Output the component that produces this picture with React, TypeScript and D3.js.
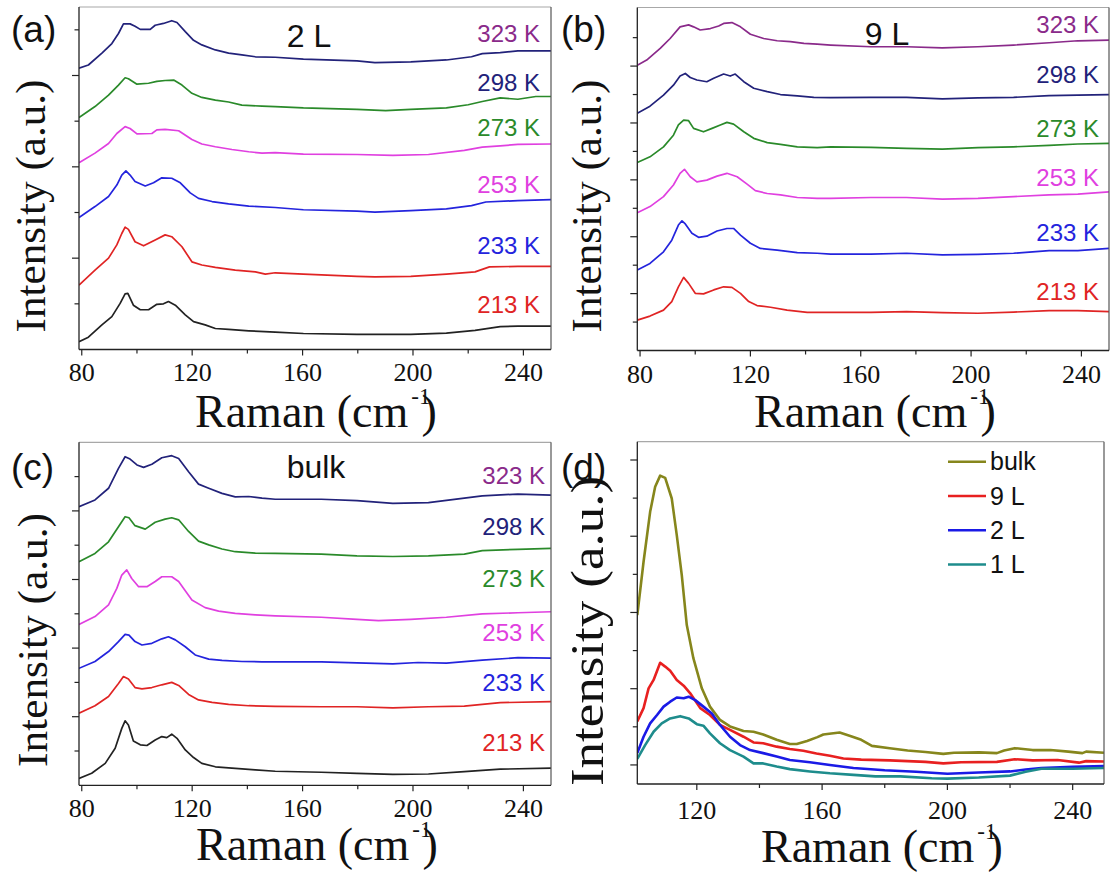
import React from 'react';
import * as d3 from 'd3';

type Pt = [number, number];

// ---------- tick values / labels ----------
const xMajorTicks = [80, 120, 160, 200, 240];
const xMinorTicks = [100, 140, 180, 220];
const xMajorTicksD = [120, 160, 200, 240];
const xMinorTicksD = [140, 180, 220];
const tempLabels = ['323 K', '298 K', '273 K', '253 K', '233 K', '213 K'];
const tempLabelColors = ['#8a2a8a', '#22227a', '#2a8a2a', '#e040e0', '#2424dd', '#e02424'];
const curveColorsAC = ['#22227a', '#2a8a2a', '#e040e0', '#2424dd', '#e02424', '#222222'];
const curveColorsB = ['#8a2a8a', '#22227a', '#2a8a2a', '#e040e0', '#2424dd', '#e02424'];
const legendLabelsD = ['bulk', '9 L', '2 L', '1 L'];
const legendColorsD = ['#86861c', '#e82020', '#1a1ae6', '#1e8c8c'];

// ---------- (a) 2 L ----------
const a323: Pt[] = [[79,6.16],[82.4,6.23],[87.3,6.49],[90.9,6.70],[93.3,6.92],[95.1,7.13],[97.5,7.13],[99.3,7.08],[101.2,7.01],[104.8,7.01],[106.6,7.10],[109.6,7.14],[112.6,7.20],[114.5,7.16],[117.5,6.96],[120.5,6.77],[123.5,6.67],[128.4,6.56],[133.2,6.49],[138,6.45],[142.9,6.41],[150.1,6.40],[160.3,6.36],[179.7,6.32],[186.2,6.28],[199.2,6.30],[212.1,6.34],[221.2,6.41],[225.1,6.48],[231.6,6.50],[238,6.54],[250,6.54]];
const a298: Pt[] = [[79,5.08],[84.8,5.32],[89.7,5.57],[93.3,5.79],[95.7,5.95],[96.9,5.93],[100,5.81],[104.2,5.83],[107.2,5.87],[110.2,5.89],[113.3,5.90],[116.3,5.79],[119.9,5.61],[123.5,5.52],[128.4,5.46],[133.2,5.42],[138,5.35],[145.3,5.33],[150.1,5.32],[160.3,5.29],[179.7,5.26],[190.1,5.23],[199.2,5.26],[212.1,5.29],[220,5.36],[225.1,5.43],[231.6,5.51],[238,5.48],[244.5,5.54],[250,5.54]];
const a273: Pt[] = [[79,4.09],[84.8,4.30],[89.7,4.51],[92.7,4.73],[95.7,4.88],[97.5,4.84],[100,4.72],[105.4,4.73],[107.2,4.81],[110.2,4.82],[115.1,4.79],[119.9,4.60],[123.5,4.50],[128.4,4.44],[134.4,4.38],[140.5,4.33],[145.3,4.30],[150.1,4.31],[160.3,4.28],[179.7,4.27],[192.7,4.25],[205.6,4.27],[218.6,4.36],[225.1,4.43],[231.6,4.46],[238,4.49],[250,4.50]];
const a253: Pt[] = [[79,2.89],[84.8,3.13],[89.7,3.35],[92.7,3.60],[94.5,3.82],[96,3.91],[97.5,3.82],[99.3,3.68],[103,3.58],[106,3.65],[109,3.76],[112.6,3.75],[115.7,3.65],[119.3,3.43],[122.3,3.31],[127.2,3.24],[133.2,3.19],[140.5,3.14],[150.1,3.11],[160.3,3.06],[179.7,3.03],[186.2,3.01],[199.2,3.04],[212.1,3.08],[221.2,3.15],[226.4,3.23],[238,3.26],[250,3.28]];
const a233: Pt[] = [[79,1.41],[84.8,1.74],[89.7,2.00],[92.7,2.29],[94.5,2.54],[95.7,2.68],[96.9,2.63],[99.3,2.36],[102.4,2.27],[106.6,2.40],[110.2,2.51],[112.6,2.47],[116.3,2.25],[119.9,1.92],[123.5,1.85],[128.4,1.80],[135.6,1.74],[142.9,1.70],[146.5,1.65],[150.1,1.68],[160.3,1.65],[179.7,1.60],[186.2,1.59],[199.2,1.60],[212.1,1.65],[222.5,1.70],[227.7,1.81],[238,1.82],[250,1.82]];
const a213: Pt[] = [[79,0.17],[82.4,0.27],[87.3,0.54],[90.9,0.72],[93.9,1.01],[95.7,1.22],[96.7,1.23],[98.7,0.97],[101.2,0.87],[104.2,0.87],[107.2,0.99],[109.6,1.00],[111.4,1.05],[113.9,0.97],[117.5,0.76],[120.5,0.61],[124.7,0.54],[128.4,0.46],[133.2,0.44],[140.5,0.41],[150.1,0.38],[160.3,0.35],[179.7,0.33],[199.2,0.33],[212.1,0.36],[222.5,0.42],[231.6,0.50],[238,0.51],[250,0.51]];

// ---------- (b) 9 L ----------
const b323: Pt[] = [[79,10.03],[82.4,10.21],[87.3,10.62],[90.9,10.97],[94.5,11.38],[97.6,11.45],[99.4,11.38],[101.8,11.27],[105.5,11.32],[108.5,11.41],[110.3,11.50],[113.3,11.53],[116.4,11.38],[120,11.12],[124.8,10.97],[129.7,10.89],[134.5,10.86],[139.4,10.80],[144.2,10.77],[149.1,10.74],[163.7,10.68],[176.6,10.68],[189.6,10.64],[202.5,10.68],[215.4,10.74],[228.3,10.82],[238.7,10.89],[250,10.91]];
const b298: Pt[] = [[79,8.34],[83.6,8.59],[88.5,8.98],[92.1,9.33],[94.5,9.65],[96.4,9.74],[98.2,9.60],[100.6,9.51],[104.2,9.45],[106.7,9.57],[110.3,9.72],[112.7,9.65],[114.5,9.72],[117.6,9.45],[121.2,9.22],[126.1,9.10],[130.9,9.00],[137,8.95],[143,8.90],[149.1,8.89],[163.7,8.90],[176.6,8.90],[189.6,8.85],[202.5,8.88],[215.4,8.90],[228.3,8.96],[238.7,8.98],[250,9.00]];
const b273: Pt[] = [[79,6.61],[83.6,6.81],[88.5,7.16],[92.1,7.57],[93.9,7.93],[95.8,8.10],[97.6,8.08],[99.4,7.81],[103,7.69],[106.1,7.81],[109.1,7.93],[111.5,8.02],[113.9,7.96],[117.6,7.69],[121.2,7.46],[126.1,7.31],[130.9,7.25],[137,7.16],[144.2,7.13],[149.1,7.16],[163.7,7.14],[176.6,7.11],[189.6,7.08],[202.5,7.13],[215.4,7.16],[228.3,7.21],[238.7,7.26],[250,7.28]];
const b253: Pt[] = [[79,4.84],[83.6,5.06],[88.5,5.41],[92.1,5.82],[94.5,6.23],[96.1,6.37],[98.2,6.11],[100.6,5.93],[104.2,5.99],[107.9,6.13],[111.5,6.23],[115.2,6.11],[118.8,5.85],[121.8,5.62],[126.1,5.52],[130.9,5.47],[137,5.38],[144.2,5.35],[149.1,5.35],[163.7,5.38],[176.6,5.38],[189.6,5.32],[202.5,5.35],[215.4,5.41],[228.3,5.47],[238.7,5.50],[250,5.58]];
const b233: Pt[] = [[79,2.83],[83.6,3.06],[88.5,3.47],[91.5,3.88],[93.9,4.41],[95.2,4.56],[96.4,4.45],[98.8,4.12],[101.2,3.98],[104.2,4.02],[107.9,4.20],[111.5,4.29],[113.9,4.29],[116.4,4.06],[120,3.77],[123.6,3.59],[129.7,3.53],[137,3.44],[144.2,3.42],[149.1,3.39],[163.7,3.39],[176.6,3.42],[189.6,3.36],[202.5,3.38],[215.4,3.42],[228.3,3.51],[238.7,3.51],[250,3.59]];
const b213: Pt[] = [[79,1.07],[83.6,1.21],[88.5,1.42],[91.5,1.72],[93.9,2.24],[95.8,2.57],[97.6,2.36],[100,2.01],[103,1.99],[106.7,2.13],[110.3,2.24],[113.3,2.22],[116.4,2.01],[119.4,1.72],[122.4,1.58],[127.3,1.52],[133.3,1.42],[140.6,1.34],[149.1,1.34],[163.7,1.34],[176.6,1.37],[189.6,1.33],[202.5,1.31],[215.4,1.35],[228.3,1.40],[238.7,1.40],[250,1.37]];

// ---------- (c) bulk ----------
const c323: Pt[] = [[79,8.12],[84.8,8.32],[89.7,8.66],[93.3,9.24],[95.7,9.58],[97.5,9.51],[100,9.34],[102.4,9.27],[105.4,9.36],[109,9.55],[112.6,9.61],[115.1,9.53],[118.7,9.14],[122.3,8.78],[126,8.66],[130.8,8.51],[135.6,8.41],[140.5,8.42],[145.3,8.37],[150.1,8.34],[166.8,8.34],[179.7,8.30],[192.7,8.22],[205.6,8.24],[218.6,8.37],[225.1,8.44],[238,8.49],[250,8.46]];
const c298: Pt[] = [[79,6.52],[84.8,6.76],[89.7,7.10],[93.3,7.54],[95.7,7.83],[97.1,7.80],[99.3,7.57],[103,7.47],[106.6,7.67],[110.2,7.76],[112.6,7.80],[115.1,7.74],[118.7,7.40],[122.3,7.12],[126,7.01],[130.8,6.89],[135.6,6.81],[142.9,6.77],[150.1,6.76],[166.8,6.74],[179.7,6.69],[192.7,6.67],[205.6,6.69],[218.6,6.74],[225.1,6.84],[238,6.88],[250,6.91]];
const c273: Pt[] = [[79,4.69],[84.8,4.92],[89.7,5.26],[92.7,5.74],[94.5,6.13],[96.3,6.28],[98.1,6.03],[100.6,5.79],[103.6,5.79],[106.6,5.94],[109,6.08],[112.6,6.08],[115.1,5.94],[119.9,5.40],[124.7,5.18],[129.6,5.08],[135.6,5.01],[142.9,4.97],[150.1,4.94],[166.8,4.90],[179.7,4.84],[187.5,4.80],[199.2,4.84],[212.1,4.90],[225.1,5.00],[238,5.03],[250,5.06]];
const c253: Pt[] = [[79,3.41],[84.8,3.61],[89.7,3.90],[93.3,4.19],[95.7,4.40],[97.1,4.38],[99.3,4.19],[101.8,4.09],[105.4,4.14],[109,4.27],[111.4,4.33],[113.9,4.24],[117.5,4.04],[121.1,3.80],[126,3.68],[130.8,3.64],[138,3.61],[145.3,3.60],[150.1,3.60],[166.8,3.60],[179.7,3.57],[192.7,3.54],[201.8,3.58],[212.1,3.56],[225.1,3.65],[238,3.72],[250,3.71]];
const c233: Pt[] = [[79,2.10],[84.8,2.32],[89.7,2.59],[93.3,2.97],[95.1,3.17],[96.9,3.10],[99.3,2.85],[101.8,2.81],[105.4,2.85],[109,2.93],[112.6,3.00],[115.1,2.91],[118.7,2.65],[122.3,2.49],[127.2,2.42],[133.2,2.36],[140.5,2.32],[150.1,2.30],[166.8,2.29],[179.7,2.29],[192.7,2.26],[205.6,2.29],[218.6,2.31],[231.6,2.41],[250,2.44]];
const c213: Pt[] = [[79,0.20],[83.6,0.35],[88.5,0.64],[92.1,1.08],[94.5,1.66],[95.7,1.88],[96.9,1.76],[98.7,1.29],[101.2,1.18],[103.6,1.16],[106.6,1.32],[109,1.42],[110.8,1.39],[112.6,1.49],[114.5,1.37],[117.5,1.03],[120.5,0.81],[123.5,0.64],[128.4,0.54],[134.4,0.50],[142.9,0.45],[150.1,0.41],[166.8,0.38],[179.7,0.35],[192.7,0.32],[205.6,0.33],[218.6,0.40],[231.6,0.47],[250,0.50]];

// ---------- (d) thickness comparison ----------
const dBulk: Pt[] = [[101,3.93],[103,5.33],[105.1,6.64],[106.7,7.30],[108.3,7.59],[109.9,7.53],[112,6.99],[113.6,6.03],[115.2,4.98],[116.8,3.67],[118.9,2.80],[121.6,2.01],[124.2,1.53],[127.4,1.18],[130.6,1.01],[134.9,0.89],[138.1,0.87],[141.2,0.80],[145.5,0.66],[149.7,0.55],[151.9,0.55],[155.2,0.63],[158.5,0.73],[160.4,0.80],[162.3,0.82],[165.6,0.85],[169,0.76],[172.5,0.66],[175.9,0.50],[181.6,0.44],[187.3,0.38],[193,0.34],[198.7,0.29],[202.1,0.32],[210.1,0.33],[215.8,0.31],[218.1,0.38],[221.5,0.44],[227.2,0.39],[232.9,0.39],[238.6,0.35],[243.1,0.31],[244.3,0.35],[250,0.32]];
const d9L: Pt[] = [[101,1.14],[103,1.49],[104.6,2.01],[106.2,2.23],[108.3,2.68],[109.9,2.58],[111.5,2.47],[113.6,2.23],[115.8,2.08],[117.9,1.88],[121.1,1.49],[124.2,1.31],[127.4,1.05],[130.6,0.92],[134.9,0.74],[138.1,0.59],[141.2,0.57],[145.5,0.48],[149.7,0.42],[154,0.37],[158.2,0.30],[162.5,0.24],[166.8,0.17],[172.5,0.14],[181.6,0.12],[193,0.08],[198.7,0.04],[204.4,0.07],[215.8,0.08],[221.5,0.15],[227.2,0.12],[235.2,0.13],[242,0.06],[244.3,0.10],[250,0.09]];
const d2L: Pt[] = [[101,0.31],[103,0.74],[105.1,1.09],[107.3,1.31],[109.4,1.53],[111.5,1.66],[113.6,1.77],[115.8,1.75],[117.4,1.79],[119.5,1.70],[122.1,1.53],[124.8,1.35],[127.4,1.05],[130.6,0.74],[133.8,0.52],[137,0.39],[141.2,0.31],[145.5,0.22],[149.7,0.13],[156.1,0.07],[162.5,0.00],[170,-0.08],[180,-0.14],[190,-0.18],[200,-0.23],[210,-0.20],[220,-0.17],[225,-0.12],[230,-0.08],[240,-0.05],[250,-0.03]];
const d1L: Pt[] = [[101,0.16],[103.5,0.52],[106.2,0.87],[108.8,1.09],[111.5,1.22],[114.7,1.28],[117.4,1.22],[120,1.07],[122.1,1.03],[124.2,0.83],[127.4,0.57],[130.6,0.39],[134.9,0.22],[138.1,0.04],[141.2,0.04],[145.5,-0.04],[149.7,-0.11],[156.1,-0.17],[162.5,-0.22],[170,-0.26],[177,-0.30],[185,-0.30],[195,-0.35],[200,-0.36],[210,-0.33],[220,-0.28],[225,-0.18],[230,-0.10],[240,-0.10],[250,-0.08]];

const SERIF = '"Liberation Serif", "Times New Roman", serif';
const SANS = '"Liberation Sans", Arial, sans-serif';

interface PanelSpec {
  id: string;
  left: number; right: number; top: number; bottom: number;
  xDomain: [number, number];
  yDomain: [number, number];
  xMajor: number[]; xMinor: number[];
  yMajor: number[]; yMinor: number[];
  series: Pt[][];
  colors: string[];
  lineWidth: number;
  tickLabelDy: number;
}

function Panel({ s }: { s: PanelSpec }) {
  const x = d3.scaleLinear().domain(s.xDomain).range([s.left, s.right]);
  const y = d3.scaleLinear().domain(s.yDomain).range([s.bottom, s.top]);
  const line = d3.line<Pt>().x(d => x(d[0])).y(d => y(d[1]));
  const clipId = `clip-${s.id}`;
  return (
    <g>
      <defs>
        <clipPath id={clipId}>
          <rect x={s.left} y={s.top} width={s.right - s.left} height={s.bottom - s.top} />
        </clipPath>
      </defs>
      <g clipPath={`url(#${clipId})`}>
        {s.series.map((d, i) => (
          <path key={i} d={line(d) || ''} fill="none" stroke={s.colors[i]} strokeWidth={s.lineWidth} strokeLinejoin="round" />
        ))}
      </g>
      {/* frame */}
      <line x1={s.left} x2={s.right} y1={s.top} y2={s.top} stroke="#a8a8a8" strokeWidth={1.2} />
      <line x1={s.right} x2={s.right} y1={s.top} y2={s.bottom} stroke="#555" strokeWidth={1.2} />
      <line x1={s.left} x2={s.left} y1={s.top} y2={s.bottom} stroke="#222" strokeWidth={1.3} />
      <line x1={s.left} x2={s.right} y1={s.bottom} y2={s.bottom} stroke="#222" strokeWidth={1.3} />
      {/* y ticks */}
      {s.yMajor.map(v => (
        <line key={'ym' + v} x1={s.left - 7} x2={s.left} y1={y(v)} y2={y(v)} stroke="#222" strokeWidth={1.2} />
      ))}
      {s.yMinor.map(v => (
        <line key={'yn' + v} x1={s.left - 4.5} x2={s.left} y1={y(v)} y2={y(v)} stroke="#222" strokeWidth={1.2} />
      ))}
      {/* x ticks */}
      {s.xMajor.map(v => (
        <line key={'xm' + v} x1={x(v)} x2={x(v)} y1={s.bottom} y2={s.bottom + 6} stroke="#222" strokeWidth={1.2} />
      ))}
      {s.xMinor.map(v => (
        <line key={'xn' + v} x1={x(v)} x2={x(v)} y1={s.bottom} y2={s.bottom + 4} stroke="#222" strokeWidth={1.2} />
      ))}
      {s.xMajor.map(v => (
        <text key={'xl' + v} x={x(v)} y={s.bottom + s.tickLabelDy} textAnchor="middle" fontFamily={SERIF} fontSize={26} fill="#111">{v}</text>
      ))}
    </g>
  );
}

const specA: PanelSpec = {
  id: 'a', left: 79, right: 551, top: 7, bottom: 349.5,
  xDomain: [79, 250], yDomain: [0, 7.5],
  xMajor: xMajorTicks, xMinor: xMinorTicks, yMajor: [2, 4, 6], yMinor: [1, 3, 5, 7],
  series: [a323, a298, a273, a253, a233, a213], colors: curveColorsAC, lineWidth: 1.7, tickLabelDy: 31.5,
};
const specB: PanelSpec = {
  id: 'b', left: 637.3, right: 1109, top: 7.5, bottom: 350.5,
  xDomain: [79, 250], yDomain: [0, 12.06],
  xMajor: xMajorTicks, xMinor: xMinorTicks, yMajor: [2, 4, 6, 8, 10], yMinor: [1, 3, 5, 7, 9, 11],
  series: [b323, b298, b273, b253, b233, b213], colors: curveColorsB, lineWidth: 1.7, tickLabelDy: 32,
};
const specC: PanelSpec = {
  id: 'c', left: 79, right: 551, top: 442.3, bottom: 785.3,
  xDomain: [79, 250], yDomain: [0, 10],
  xMajor: xMajorTicks, xMinor: xMinorTicks, yMajor: [2, 4, 6, 8], yMinor: [1, 3, 5, 7, 9],
  series: [c323, c298, c273, c253, c233, c213], colors: curveColorsAC, lineWidth: 1.7, tickLabelDy: 31.5,
};
const specD: PanelSpec = {
  id: 'd', left: 637.3, right: 1104, top: 441.7, bottom: 784,
  xDomain: [101, 250], yDomain: [-0.5, 8.48],
  xMajor: xMajorTicksD, xMinor: xMinorTicksD, yMajor: [0, 2, 4, 6, 8], yMinor: [1, 3, 5, 7],
  series: [dBulk, d9L, d2L, d1L], colors: legendColorsD, lineWidth: 2.6, tickLabelDy: 35,
};

function RamanLabel({ x, y }: { x: number; y: number }) {
  return (
    <text x={x} y={y} fontFamily={SERIF} fontSize={46} fill="#111">
      Raman (cm<tspan fontSize={23} dx={3} dy={-23}>-1</tspan><tspan fontSize={46} dx={-9} dy={23}>)</tspan>
    </text>
  );
}

function IntensityLabel({ x, y, len, size = 42 }: { x: number; y: number; len: number; size?: number }) {
  return (
    <text transform={`translate(${x},${y}) rotate(-90)`} textAnchor="middle" fontFamily={SERIF} fontSize={size} fill="#111"
      textLength={len} lengthAdjust="spacingAndGlyphs">Intensity (a.u.)</text>
  );
}

function TempLabels({ right, baselines }: { right: number; baselines: number[] }) {
  return (
    <g>
      {tempLabels.map((t, i) => (
        <text key={t} x={right} y={baselines[i]} textAnchor="end" fontFamily={SANS} fontSize={24} fill={tempLabelColors[i]}>{t}</text>
      ))}
    </g>
  );
}

export default function App() {
  const legendY = [461.7, 496, 530.3, 564.5];
  return (
    <svg width={1111} height={872} style={{ position: 'absolute', left: 0, top: 0, background: '#fff' }}>
      <rect x={0} y={0} width={1111} height={872} fill="#fff" />
      <Panel s={specA} />
      <Panel s={specB} />
      <Panel s={specC} />
      <Panel s={specD} />

      {/* axis titles */}
      <RamanLabel x={195} y={427} />
      <RamanLabel x={754} y={427} />
      <RamanLabel x={196} y={860} />
      <RamanLabel x={761} y={862} />
      <IntensityLabel x={45} y={206} len={253} />
      <IntensityLabel x={601} y={206} len={253} />
      <IntensityLabel x={47} y={640} len={254} />
      <IntensityLabel x={603} y={631} len={310} size={46} />

      {/* panel letters */}
      <text x={11} y={42} fontFamily={SANS} fontSize={37} fill="#111">(a)</text>
      <text x={561} y={42} fontFamily={SANS} fontSize={37} fill="#111">(b)</text>
      <text x={11} y={480} fontFamily={SANS} fontSize={37} fill="#111">(c)</text>
      <text x={561} y={480} fontFamily={SANS} fontSize={37} fill="#111">(d)</text>

      {/* panel titles */}
      <text x={309} y={47} textAnchor="middle" fontFamily={SANS} fontSize={32} fill="#111">2 L</text>
      <text x={887} y={45} textAnchor="middle" fontFamily={SANS} fontSize={32} fill="#111">9 L</text>
      <text x={316} y={478} textAnchor="middle" fontFamily={SANS} fontSize={32} fill="#111">bulk</text>

      <TempLabels right={540} baselines={[42, 90.7, 136, 192.7, 254, 313.3]} />
      <TempLabels right={1099} baselines={[33.3, 83.3, 136.7, 186, 240.7, 300]} />
      <TempLabels right={545} baselines={[484, 535, 586.7, 640.7, 690.7, 750.7]} />

      {/* legend (d) */}
      {legendLabelsD.map((t, i) => (
        <g key={t}>
          <line x1={948} x2={986} y1={legendY[i]} y2={legendY[i]} stroke={legendColorsD[i]} strokeWidth={2.6} />
          <text x={990} y={legendY[i] + 8.5} fontFamily={SANS} fontSize={25} fill="#111">{t}</text>
        </g>
      ))}
    </svg>
  );
}
